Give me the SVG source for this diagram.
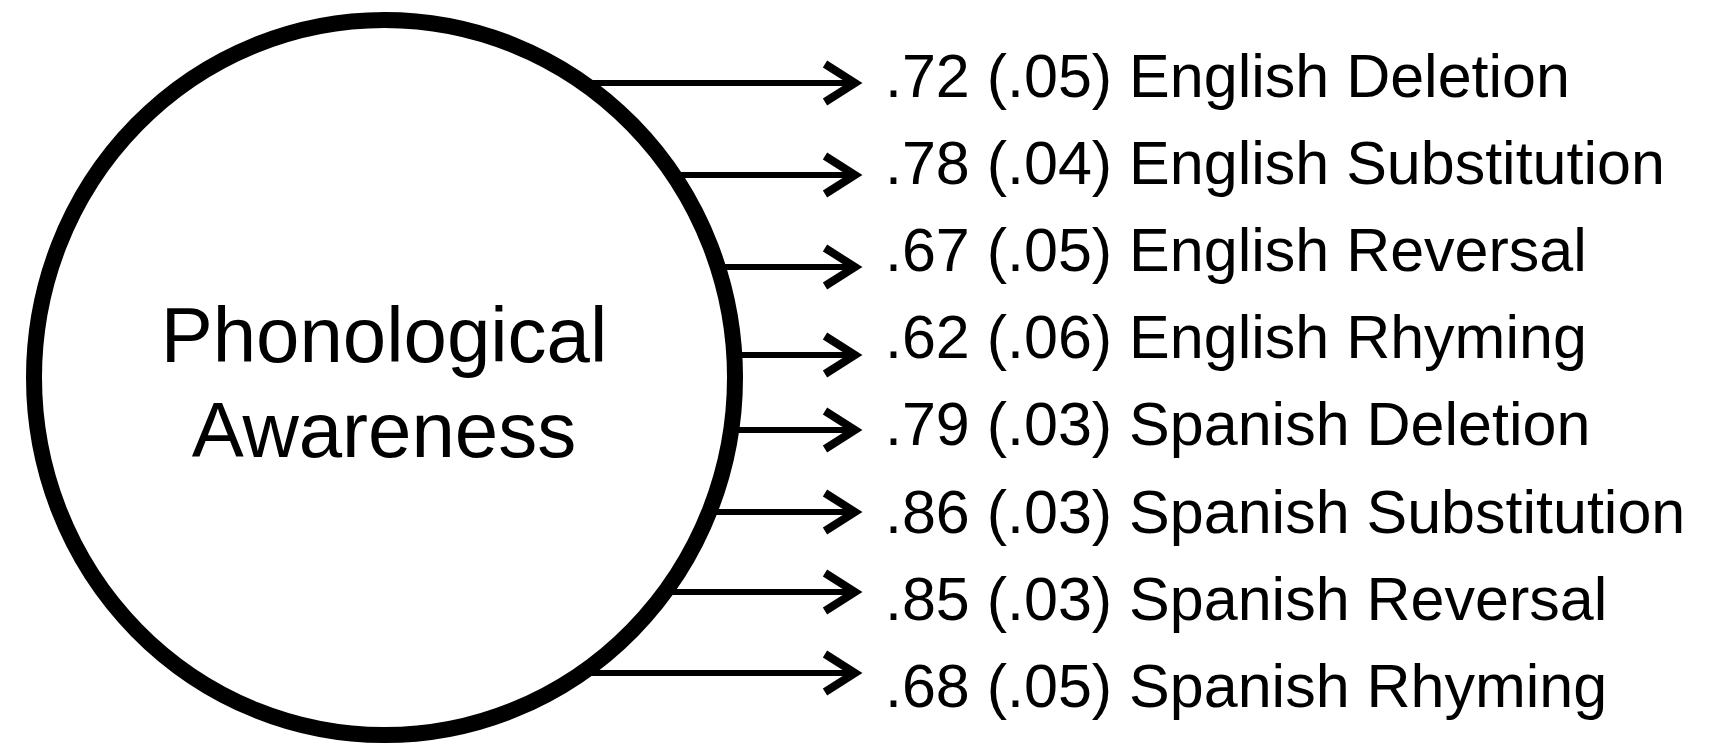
<svg xmlns="http://www.w3.org/2000/svg" width="1715" height="753" viewBox="0 0 1715 753">
<style>
.lbl{font-family:"Liberation Sans",Arial,sans-serif;font-size:61px;fill:#000}
.ctr{font-family:"Liberation Sans",Arial,sans-serif;font-size:78px;fill:#000;text-anchor:middle}
.con{stroke:#000;stroke-width:6;fill:none;marker-end:url(#chev)}
</style>
<defs>
<marker id="chev" markerUnits="userSpaceOnUse" markerWidth="60" markerHeight="60" viewBox="-40 -30 60 60" refX="0" refY="0" orient="auto" overflow="visible">
<path d="M-30,-19 L0,0 L-30,19" fill="none" stroke="#000" stroke-width="8" stroke-linejoin="miter"/>
</marker>
</defs>
<rect width="1715" height="753" fill="#fff"/>
<g id="connectors">
<line class="con" x1="400" y1="83" x2="855" y2="83"/>
<line class="con" x1="400" y1="175" x2="855" y2="175"/>
<line class="con" x1="400" y1="267" x2="855" y2="267"/>
<line class="con" x1="400" y1="355" x2="855" y2="355"/>
<line class="con" x1="400" y1="430" x2="855" y2="430"/>
<line class="con" x1="400" y1="512" x2="855" y2="512"/>
<line class="con" x1="400" y1="592" x2="855" y2="592"/>
<line class="con" x1="400" y1="673" x2="855" y2="673"/>
</g>
<g id="phonological-awareness">
<ellipse cx="384.5" cy="377.5" rx="350.5" ry="357.5" fill="#fff" stroke="#000" stroke-width="16"/>
<text class="ctr" x="384" y="362">Phonological</text>
<text class="ctr" x="384" y="457">Awareness</text>
</g>
<g id="english-deletion"><text class="lbl" x="885" y="97">.72 (.05) English Deletion</text></g>
<g id="english-substitution"><text class="lbl" x="885" y="184">.78 (.04) English Substitution</text></g>
<g id="english-reversal"><text class="lbl" x="885" y="271">.67 (.05) English Reversal</text></g>
<g id="english-rhyming"><text class="lbl" x="885" y="358">.62 (.06) English Rhyming</text></g>
<g id="spanish-deletion"><text class="lbl" x="885" y="445">.79 (.03) Spanish Deletion</text></g>
<g id="spanish-substitution"><text class="lbl" x="885" y="533">.86 (.03) Spanish Substitution</text></g>
<g id="spanish-reversal"><text class="lbl" x="885" y="620">.85 (.03) Spanish Reversal</text></g>
<g id="spanish-rhyming"><text class="lbl" x="885" y="707">.68 (.05) Spanish Rhyming</text></g>
</svg>
